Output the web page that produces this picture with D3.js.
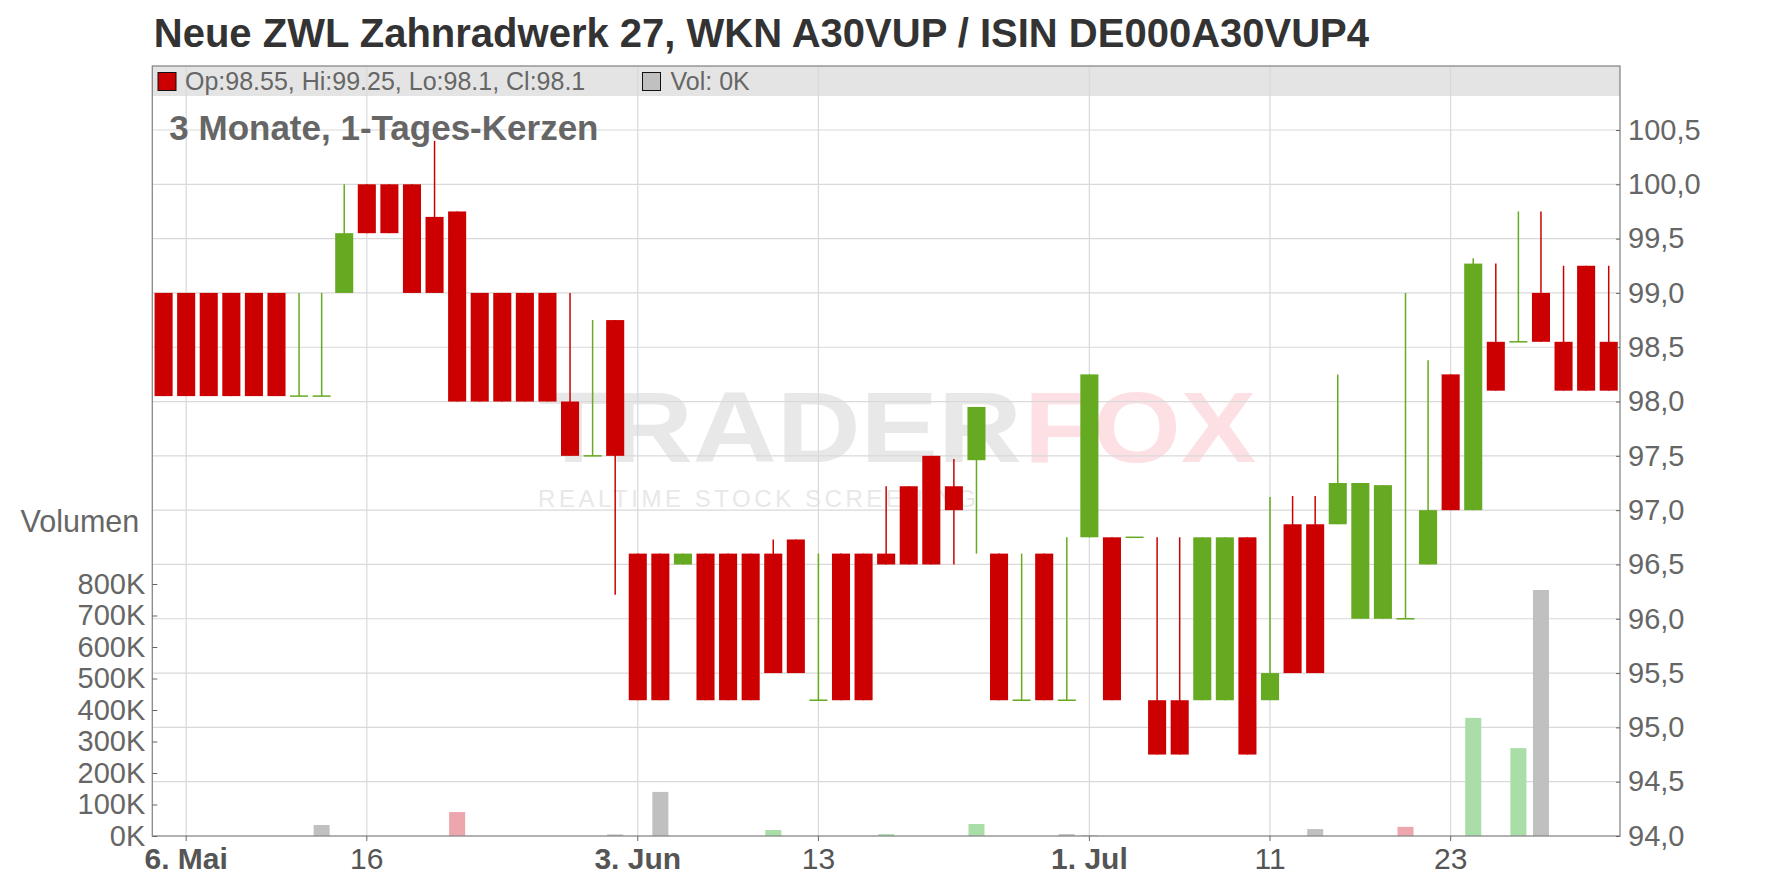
<!DOCTYPE html>
<html><head><meta charset="utf-8">
<script src="https://cdn.jsdelivr.net/npm/d3@7"></script>
<style>
body{margin:0;background:#fff;}
svg{display:block;font-family:"Liberation Sans",Arial,sans-serif;}
</style>
</head><body>
<svg id="c" width="1776" height="888"></svg>
<script>
// ---- data (trading days, 3 months, daily candles) ----
const dates = [
 "2024-05-03","2024-05-06","2024-05-07","2024-05-08","2024-05-09","2024-05-10",
 "2024-05-13","2024-05-14","2024-05-15","2024-05-16","2024-05-17",
 "2024-05-20","2024-05-21","2024-05-22","2024-05-23","2024-05-24",
 "2024-05-27","2024-05-28","2024-05-29","2024-05-30","2024-05-31",
 "2024-06-03","2024-06-04","2024-06-05","2024-06-06","2024-06-07",
 "2024-06-10","2024-06-11","2024-06-12","2024-06-13","2024-06-14",
 "2024-06-17","2024-06-18","2024-06-19","2024-06-20","2024-06-21",
 "2024-06-24","2024-06-25","2024-06-26","2024-06-27","2024-06-28",
 "2024-07-01","2024-07-02","2024-07-03","2024-07-04","2024-07-05",
 "2024-07-08","2024-07-09","2024-07-10","2024-07-11","2024-07-12",
 "2024-07-15","2024-07-16","2024-07-17","2024-07-18","2024-07-19",
 "2024-07-22","2024-07-23","2024-07-24","2024-07-25","2024-07-26",
 "2024-07-29","2024-07-30","2024-07-31","2024-08-01"];
const open = [
 99.0,99.0,99.0,99.0,99.0,99.0, 98.05,98.05,99.0,100.0,100.0,
 100.0,99.7,99.75,99.0,99.0, 99.0,99.0,98.0,97.5,98.75,
 96.6,96.6,96.5,96.6,96.6, 96.6,96.6,96.73,95.25,96.6,
 96.6,96.6,97.22,97.5,97.22, 97.46,96.6,95.25,96.6,95.25,
 96.75,96.75,96.75,95.25,95.25, 95.25,95.25,96.75,95.25,96.87,
 96.87,96.87,96.0,96.0,96.0, 96.5,98.25,97.0,98.55,98.55,
 99.0,98.55,99.25,98.55];
const high = [
 99.0,99.0,99.0,99.0,99.0,99.0, 99.0,99.0,100.0,100.0,100.0,
 100.0,100.4,99.75,99.0,99.0, 99.0,99.0,99.0,98.75,98.75,
 96.6,96.6,96.6,96.6,96.6, 96.6,96.73,96.73,96.6,96.6,
 96.6,97.22,97.22,97.5,97.47, 97.95,96.6,96.6,96.6,96.75,
 98.25,96.75,96.75,96.75,96.75, 96.75,96.75,96.75,97.12,97.13,
 97.13,98.25,97.25,97.23,99.0, 98.38,98.25,99.32,99.27,99.75,
 99.75,99.25,99.25,99.25];
const low = [
 98.05,98.05,98.05,98.05,98.05,98.05, 98.05,98.05,99.0,99.55,99.55,
 99.0,99.0,98.0,98.0,98.0, 98.0,98.0,97.5,97.5,96.22,
 95.25,95.25,96.5,95.25,95.25, 95.25,95.5,95.5,95.25,95.25,
 95.25,96.5,96.5,96.5,96.5, 96.6,95.25,95.25,95.25,95.25,
 96.75,95.25,96.75,94.75,94.75, 95.25,95.25,94.75,95.25,95.5,
 95.5,96.87,96.0,96.0,96.0, 96.5,97.0,97.0,98.1,98.55,
 98.55,98.1,98.1,98.1];
const close = [
 98.05,98.05,98.05,98.05,98.05,98.05, 98.05,98.05,99.55,99.55,99.55,
 99.0,99.0,98.0,98.0,98.0, 98.0,98.0,97.5,97.5,97.5,
 95.25,95.25,96.6,95.25,95.25, 95.25,95.5,95.5,95.25,95.25,
 95.25,96.5,96.5,96.5,97.0, 97.95,95.25,95.25,95.25,95.25,
 98.25,95.25,96.75,94.75,94.75, 96.75,96.75,94.75,95.5,95.5,
 95.5,97.25,97.25,97.23,96.0, 97.0,97.0,99.27,98.1,98.55,
 98.55,98.1,98.1,98.1];
const volume = [ // thousands
 0,0,0,0,0,0, 0,35,0,0,0,
 0,0,76,0,0, 0,0,0,0,5,
 0,140,0,0,0, 0,19,0,0,0,
 0,6,0,0,0, 38,0,0,0,6,
 3,0,0,0,0, 0,0,0,0,0,
 22,0,0,0,29, 0,0,375,0,279,
 781,0,0,0];
const priceTicks = [94.0,94.5,95.0,95.5,96.0,96.5,97.0,97.5,98.0,98.5,99.0,99.5,100.0,100.5];
const volumeTicks = [0,100,200,300,400,500,600,700,800];
const xTickDates = ["2024-05-06","2024-05-16","2024-06-03","2024-06-13","2024-07-01","2024-07-11","2024-07-23"];
const xTickLabels = ["6. Mai","16","3. Jun","13","1. Jul","11","23"];
const xTickBold = [true,false,true,false,true,false,false];

const titleText = "Neue ZWL Zahnradwerk 27, WKN A30VUP / ISIN DE000A30VUP4";
const subtitleText = "3 Monate, 1-Tages-Kerzen";

// ---- layout ----
const L = 152.3, R = 1620, T = 66, B = 836;
const RED = "#cc0000", GREEN = "#66aa22";
const VOL_UP = "#aadea8", VOL_DOWN = "#eea6ae", VOL_FLAT = "#c0c0c0";
const GRID = "#d9d9d9", AXIS = "#888888", LABEL = "#666666";

const svg = d3.select("#c");
const x = d3.scaleBand().domain(dates).range([L, R]).paddingInner(0.2).paddingOuter(0.1);
const y = d3.scaleLinear().domain([94, 100.5]).range([B, 130]);
const yv = d3.scaleLinear().domain([0, 800]).range([B, 584]);
const cx = d => x(d) + x.bandwidth() / 2;

const data = dates.map((d, i) => ({d, o: open[i], h: high[i], l: low[i], c: close[i], v: volume[i],
  pc: i > 0 ? close[i - 1] : close[i]}));

// title
svg.append("text").attr("x", 153.8).attr("y", 46.7).attr("font-size", 40).attr("font-weight", "bold")
  .attr("fill", "#333").text(titleText);

// legend band
svg.append("rect").attr("x", L).attr("y", T).attr("width", R - L).attr("height", 30).attr("fill", "#e4e4e4");

// watermark
const wm = svg.append("g");
wm.append("text").attr("x", 538).attr("y", 462).attr("font-size", 100).attr("font-weight", "bold")
  .attr("fill", "#e8e8e8").attr("textLength", 484).attr("lengthAdjust", "spacingAndGlyphs").text("TRADER");
wm.append("text").attr("x", 1024).attr("y", 462).attr("font-size", 100).attr("font-weight", "bold")
  .attr("fill", "#fde0e4").attr("textLength", 232).attr("lengthAdjust", "spacingAndGlyphs").text("FOX");
wm.append("text").attr("x", 538).attr("y", 507).attr("font-size", 24)
  .attr("fill", "#e8e8e8").attr("textLength", 438).attr("lengthAdjust", "spacing").text("REALTIME STOCK SCREENING");

// grid
const grid = svg.append("g");
grid.selectAll("line.h").data(priceTicks.filter(t => t > 94)).join("line")
  .attr("x1", L).attr("x2", R).attr("y1", d => y(d)).attr("y2", d => y(d))
  .attr("stroke", GRID).attr("stroke-width", 1.2);
grid.selectAll("line.v").data(xTickDates).join("line")
  .attr("x1", d => cx(d)).attr("x2", d => cx(d)).attr("y1", T).attr("y2", B)
  .attr("stroke", GRID).attr("stroke-width", 1.2);

// volume bars
const vw = x.step() * 0.71;
svg.append("g").selectAll("rect").data(data.filter(d => d.v > 0)).join("rect")
  .attr("x", d => cx(d.d) - vw / 2).attr("width", vw)
  .attr("y", d => yv(d.v)).attr("height", d => B - yv(d.v))
  .attr("fill", d => d.c > d.pc ? VOL_UP : d.c < d.pc ? VOL_DOWN : VOL_FLAT);

// candles
const cg = svg.append("g");
const col = d => d.c >= d.o ? GREEN : RED;
cg.selectAll("line.wick").data(data).join("line")
  .attr("x1", d => cx(d.d)).attr("x2", d => cx(d.d))
  .attr("y1", d => y(d.h)).attr("y2", d => y(d.l))
  .attr("stroke", col).attr("stroke-width", 1.5);
cg.selectAll("rect.body").data(data.filter(d => d.o !== d.c)).join("rect")
  .attr("x", d => x(d.d)).attr("width", x.bandwidth())
  .attr("y", d => y(Math.max(d.o, d.c))).attr("height", d => Math.abs(y(d.o) - y(d.c)))
  .attr("fill", col);
cg.selectAll("line.doji").data(data.filter(d => d.o === d.c)).join("line")
  .attr("x1", d => x(d.d)).attr("x2", d => x(d.d) + x.bandwidth())
  .attr("y1", d => y(d.o)).attr("y2", d => y(d.o))
  .attr("stroke", col).attr("stroke-width", 1.5);

// border
svg.append("rect").attr("x", L).attr("y", T).attr("width", R - L).attr("height", B - T)
  .attr("fill", "none").attr("stroke", AXIS).attr("stroke-width", 1.3);

// legend items
const last = data[data.length - 1];
svg.append("rect").attr("x", 158).attr("y", 72.5).attr("width", 18).attr("height", 18)
  .attr("fill", RED).attr("stroke", "#111").attr("stroke-width", 1);
svg.append("text").attr("x", 185).attr("y", 90).attr("font-size", 25).attr("fill", LABEL)
  .text(`Op:${last.o}, Hi:${last.h}, Lo:${last.l}, Cl:${last.c}`);
svg.append("rect").attr("x", 642.5).attr("y", 72.5).attr("width", 18).attr("height", 18)
  .attr("fill", VOL_FLAT).attr("stroke", "#111").attr("stroke-width", 1);
svg.append("text").attr("x", 670.5).attr("y", 90).attr("font-size", 25).attr("fill", LABEL)
  .text(`Vol: ${last.v}K`);

// subtitle
svg.append("text").attr("x", 169.3).attr("y", 139.5).attr("font-size", 35).attr("font-weight", "bold")
  .attr("fill", LABEL).text(subtitleText);

// price axis (right)
const ya = svg.append("g").attr("transform", `translate(${R},0)`)
  .call(d3.axisRight(y).tickValues(priceTicks).tickSizeInner(-4).tickSizeOuter(0).tickPadding(8)
    .tickFormat(d => d3.format(".1f")(d).replace(".", ",")));
ya.select(".domain").remove();
ya.selectAll("line").attr("stroke", "#666");
ya.selectAll("text").attr("font-size", 29).attr("fill", LABEL).attr("font-family", "Liberation Sans, Arial, sans-serif");

// volume axis (left)
const va = svg.append("g").attr("transform", `translate(${L},0)`)
  .call(d3.axisLeft(yv).tickValues(volumeTicks).tickSizeInner(-5).tickSizeOuter(0).tickPadding(7)
    .tickFormat(d => d + "K"));
va.select(".domain").remove();
va.selectAll("line").attr("stroke", "#666");
va.selectAll("text").attr("font-size", 29).attr("fill", LABEL).attr("font-family", "Liberation Sans, Arial, sans-serif");
svg.append("text").attr("x", 139.3).attr("y", 531.7).attr("text-anchor", "end").attr("font-size", 30.5)
  .attr("fill", LABEL).text("Volumen");

// time axis (bottom)
const xa = svg.append("g").attr("transform", `translate(0,${B})`)
  .call(d3.axisBottom(x).tickValues(xTickDates).tickSizeInner(5).tickSizeOuter(0).tickPadding(7)
    .tickFormat((d, i) => xTickLabels[i]));
xa.select(".domain").remove();
xa.selectAll("line").attr("stroke", "#666");
xa.selectAll("text").attr("font-size", 30).attr("fill", "#555")
  .attr("font-family", "Liberation Sans, Arial, sans-serif")
  .attr("font-weight", (d, i) => xTickBold[i] ? "bold" : "normal");
</script>
</body></html>
